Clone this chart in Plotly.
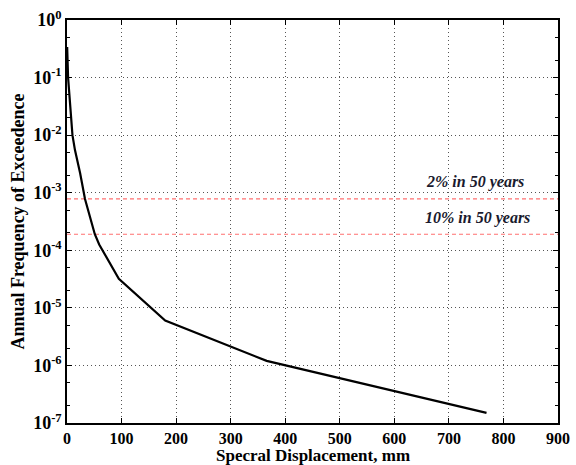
import math
import plotly.graph_objects as go

# Hazard curve: spectral displacement (mm) vs annual frequency of exceedance
disp_mm = [0.3, 2, 10, 14.6, 24, 30, 33, 51, 59, 95, 180, 366, 769]
annual_freq = [0.34, 0.1, 0.01, 5.5e-3, 2.2e-3, 1.0e-3, 7.8e-4, 1.9e-4, 1.26e-4,
               3.2e-5, 6.0e-6, 1.2e-6, 1.5e-7]

# Hazard levels drawn as horizontal reference lines
level_labels = ["2% in 50 years", "10% in 50 years"]
level_freq = [7.8e-4, 1.9e-4]
label_x = [748, 752]
label_y = [1.55e-3, 3.6e-4]

x_ticks = [0, 100, 200, 300, 400, 500, 600, 700, 800, 900]
y_exponents = [0, -1, -2, -3, -4, -5, -6, -7]

serif = "Liberation Serif"
tick_font = dict(family=serif, size=16, color="black")
title_font = dict(family=serif, size=17, color="black")

fig = go.Figure()

for f in level_freq:
    fig.add_trace(go.Scatter(
        x=[0, 900], y=[f, f], mode="lines",
        line=dict(color="#ff7070", width=1.2, dash="4px,3px"),
        hoverinfo="skip", showlegend=False))

fig.add_trace(go.Scatter(
    x=disp_mm, y=annual_freq, mode="lines",
    line=dict(color="black", width=2.2),
    showlegend=False))

# Empty trace that anchors the right-hand mirror axis
fig.add_trace(go.Scatter(x=[None], y=[None], yaxis="y2", showlegend=False,
                         hoverinfo="skip"))

# Annotation y positions on a log axis are given in log10 units
for txt, xx, yy in zip(level_labels, label_x, label_y):
    fig.add_annotation(
        x=xx, y=math.log10(yy), yref="y", xref="x",
        text=f"<b><i>{txt}</i></b>", showarrow=False,
        font=dict(family=serif, size=16, color="#1a1a2e"))

# x-axis title placed just under the tick labels
fig.add_annotation(
    x=0.5, y=-0.081, xref="paper", yref="paper", yanchor="middle",
    text="<b>Specral Displacement, mm</b>", showarrow=False,
    font=title_font)

grid_style = dict(showgrid=True, gridcolor="#555555", griddash="1px,3px",
                  gridwidth=1)

fig.update_xaxes(
    range=[0, 900], tickvals=x_ticks,
    ticktext=[f"<b>{v}</b>" for v in x_ticks],
    showline=True, linecolor="black", linewidth=1.5, mirror="ticks",
    ticks="inside", ticklen=5, tickcolor="black", zeroline=False,
    tickfont=tick_font, automargin=False,
    **grid_style)

y_tickvals = [10.0 ** e for e in y_exponents]
y_ticktext = [f"<b>10<sup>{e}</sup></b>" for e in y_exponents]

fig.update_layout(
    yaxis=dict(
        type="log", range=[-7, 0], tickvals=y_tickvals, ticktext=y_ticktext,
        showline=True, linecolor="black", linewidth=1.5, mirror=True,
        ticks="inside", ticklen=5, tickcolor="black", zeroline=False,
        minor=dict(ticks="inside", ticklen=3, tickcolor="black",
                   showgrid=False),
        tickfont=dict(family=serif, size=18, color="black"),
        automargin=False,
        title=dict(text="<b>Annual Frequency of Exceedence</b>", standoff=4,
                   font=dict(family=serif, size=18, color="black")),
        **grid_style),
    yaxis2=dict(
        type="log", range=[-7, 0], tickvals=y_tickvals, overlaying="y",
        side="right", showticklabels=False, showgrid=False, zeroline=False,
        ticks="inside", ticklen=5, tickcolor="black", automargin=False,
        minor=dict(ticks="inside", ticklen=3, tickcolor="black",
                   showgrid=False)),
    width=576, height=465,
    margin=dict(l=67, r=18, t=20, b=42),
    plot_bgcolor="white", paper_bgcolor="white",
)

fig.write_html("out.html")
